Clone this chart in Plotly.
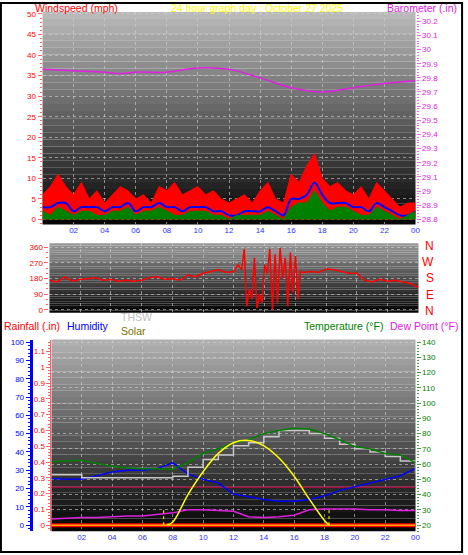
import plotly.graph_objects as go

W, H = 468, 555
hours = list(range(25))
half = [i * 0.5 for i in range(49)]
xtick_vals = list(range(2, 25, 2))
xtick_text = ["02", "04", "06", "08", "10", "12", "14", "16", "18", "20", "22", "00"]

wind_gust = [6,8,11,8,6,9,5,7,4,6,8,7,5,6,4,8,7,9,6,7,8,6,7,5,4,5,6,4,7,9,5,4,11,9,13,16,10,8,9,7,6,8,5,9,7,5,3,4,4]
wind_avg = [3,3,4,4,2,3,3,3,2,3,3,4,2,3,3,4,3,3,2,3,3,3,2,2,1,1,2,2,2,3,2,1,5,5,6,9,6,4,4,4,3,3,2,4,3,2,1,1,2]
wind_low = [2,1,3,2,1,2,2,1,1,2,2,3,1,2,2,3,2,1,1,2,2,2,1,1,0,1,1,1,1,2,1,0,3,4,4,7,4,2,3,3,2,1,1,3,2,1,0,1,2]
baro_time = [0,2,4,5,6,8,10,12,14,16,18,20,22,24]
baro = [29.86,29.85,29.84,29.83,29.84,29.84,29.87,29.86,29.80,29.73,29.70,29.73,29.76,29.78]

dir_time = [i*0.5 for i in range(25)] + [12.25,12.5,12.67,12.83,13.0,13.17,13.33,13.5,13.67,13.83,14.0,14.17,14.33,14.5,14.67,14.83,15.0,15.17,15.33,15.5,15.67,15.83,16.0,16.17,16.33] + [16.5,17,17.5,18,18.5,19,19.5,20,20.5,21,21.5,22,22.5,23,23.5,24]
dir_vals = [170,160,190,165,175,180,185,170,175,165,170,165,170,185,190,175,180,170,200,190,210,220,230,215,220] + [260,230,350,20,120,60,300,10,90,40,260,210,350,0,320,40,355,180,300,20,330,100,310,60,220] + [215,220,215,235,230,220,210,210,170,160,175,165,170,160,150,130]

temp = [61.5,62,62.5,60.5,58.5,57.5,57,57,56.5,61,67,70,74,76,80,82,83.5,83,80,76,71.5,70,67,66,61]
thsw = [53,53,51,51,51,51,51,51,52,58,63,66,72,74,78,82,82,80,77,73,70,68,65,62,54]
humidity = [25.5,25,25,27,29,30,30,31,34,28,25,23,17,15.5,14,13,13,14,16,19,21,23,25,27,31]
dewpoint = [24,24.5,25,25,25.5,26,26,27,28,30,30,29.5,29,25.5,25,25.5,26.5,30,30.5,30.5,30.5,30,30,29.5,29.5]
solar_time = [7.6,8,9,10,11,12,13,14,15,16,17,18,18.3]
solar = [0,20,200,350,470,540,555,520,440,320,170,30,0]
rain = [0]*25
rain_line = [0.24]*25
sun_events = [7.4, 18.3]

def py(p):
    return 1 - p / H

def px(p):
    return p / W

fig = go.Figure()
F = "Liberation Sans"

def gradient(x0, x1, y0, y1, top, n=30):
    shapes = []
    for i in range(n):
        f = i / n
        g = int(top * (1 - f))
        shapes.append(dict(type="rect", xref="paper", yref="paper", layer="below",
                           x0=px(x0), x1=px(x1), y0=py(y0 + (y1 - y0) * f),
                           y1=py(y0 + (y1 - y0) * (f + 1 / n)), line_width=0,
                           fillcolor=f"rgb({g},{g},{g})"))
    return shapes

shapes = []
shapes += gradient(43, 420, 10, 224, 185)
shapes += gradient(50, 423, 243, 313, 150)
shapes += gradient(52, 420, 340, 533, 175)
shapes.append(dict(type="rect", xref="paper", yref="paper", x0=0.002, x1=0.998, y0=0.002, y1=0.998,
                   line=dict(color="black", width=2)))
for t in sun_events:
    shapes.append(dict(type="line", xref="x3", yref="y4", x0=t, x1=t, y0=0, y1=0.105,
                       line=dict(color="yellow", width=1, dash="dot")))

fig.add_trace(go.Scatter(x=half, y=wind_gust, mode="lines", line=dict(color="red", width=1),
                         fill="tozeroy", fillcolor="red", xaxis="x", yaxis="y"))
fig.add_trace(go.Scatter(x=half, y=wind_avg, mode="lines", line=dict(color="blue", width=2, shape="spline"),
                         xaxis="x", yaxis="y"))
fig.add_trace(go.Scatter(x=half, y=wind_low, mode="lines", line=dict(color="green", width=1),
                         fill="tozeroy", fillcolor="green", xaxis="x", yaxis="y"))
fig.add_trace(go.Scatter(x=baro_time, y=baro, mode="lines", line=dict(color="#e020e0", width=1.5, shape="spline"),
                         xaxis="x", yaxis="y2"))
fig.add_trace(go.Scatter(x=dir_time, y=dir_vals, mode="lines", line=dict(color="red", width=1.5),
                         xaxis="x2", yaxis="y3"))
fig.add_trace(go.Scatter(x=hours, y=rain_line, mode="lines", line=dict(color="#a01040", width=1.5), xaxis="x3", yaxis="y4"))
fig.add_trace(go.Scatter(x=hours, y=rain, mode="lines", line=dict(color="red", width=4), xaxis="x3", yaxis="y4"))
fig.add_trace(go.Scatter(x=hours, y=rain, mode="lines", line=dict(color="orange", width=1.5), xaxis="x3", yaxis="y4"))
fig.add_trace(go.Scatter(x=hours, y=humidity, mode="lines", line=dict(color="blue", width=1.5), xaxis="x3", yaxis="y5"))
fig.add_trace(go.Scatter(x=hours, y=thsw, mode="lines", line=dict(color="#c8c8c8", width=1.5, shape="hv"), xaxis="x3", yaxis="y6"))
fig.add_trace(go.Scatter(x=hours, y=temp, mode="lines", line=dict(color="green", width=1.5), xaxis="x3", yaxis="y6"))
fig.add_trace(go.Scatter(x=hours, y=dewpoint, mode="lines", line=dict(color="#e020e0", width=1.5), xaxis="x3", yaxis="y6"))
fig.add_trace(go.Scatter(x=solar_time, y=solar, mode="lines", line=dict(color="yellow", width=1.5, shape="spline"), xaxis="x3", yaxis="y7"))

TS = 8
grid = dict(showgrid=True, gridcolor="rgba(210,210,210,0.6)", griddash="dot", gridwidth=1)
xcommon = dict(range=[0, 24], tickvals=xtick_vals, ticktext=xtick_text, tickfont=dict(family=F, size=TS, color="#3030ff"),
               ticks="", zeroline=False, showline=False, **grid)

def yt(color, tc, dt):
    return dict(ticks="outside", ticklen=4, tickcolor=tc, tickfont=dict(family=F, size=TS, color=color), zeroline=False,
                minor=dict(dtick=dt, ticks="outside", ticklen=2, tickcolor=tc))

fig.update_layout(
    width=W, height=H, margin=dict(l=0, r=0, t=0, b=0), paper_bgcolor="white", plot_bgcolor="rgba(0,0,0,0)",
    showlegend=False, shapes=shapes,
    xaxis=dict(domain=[px(43), px(420)], anchor="y", **xcommon),
    yaxis=dict(anchor="x", domain=[py(224), py(10)], range=[-1.2, 50.5], dtick=5, **yt("red", "#ff6060", 1), **grid),
    yaxis2=dict(anchor="x", overlaying="y", side="right", range=[28.764, 30.266], dtick=0.1, showgrid=False, **yt("#e020e0", "#ff60ff", 0.02)),
    xaxis2=dict(domain=[px(50), px(423)], anchor="y3", range=[0, 24], tickvals=xtick_vals, showticklabels=False, ticks="",
                zeroline=False, **grid),
    yaxis3=dict(anchor="x2", domain=[py(313), py(243)], range=[-17, 383], tickvals=[0, 90, 180, 270, 360], **yt("red", "#ff6060", 30), **grid),
    xaxis3=dict(domain=[px(52), px(420)], anchor="y4", **xcommon),
    yaxis4=dict(anchor="x3", domain=[py(533), py(340)], range=[-0.038, 1.176], tickvals=[i/10 for i in range(12)],
                ticktext=["0","0.1","0.2","0.3","0.4","0.5","0.6","0.7","0.8","0.9","1","1.1"], showgrid=False,
                showline=True, linecolor="#ff6060", linewidth=1, **yt("red", "#ff6060", 0.02)),
    yaxis5=dict(overlaying="y4", anchor="free", position=px(31), side="left", range=[-3.3, 101.4],
                tickvals=list(range(0, 101, 10)), showline=True, linecolor="blue", linewidth=3, showgrid=False,
                **yt("blue", "blue", 2)),
    yaxis6=dict(anchor="x3", overlaying="y4", side="right", range=[16, 141.7], dtick=10, **yt("green", "#40a040", 2), **grid),
    yaxis7=dict(anchor="x3", overlaying="y4", range=[-40, 1217], visible=False),
)

ann = [
    ("Windspeed (mph)", 33, 6, "red", "left"),
    ("24 hour graph day : October 27 2025", 260, 6, "yellow", "center"),
    ("Barometer (.in)", 464, 6, "#e020e0", "right"),
    ("Rainfall (.in)", 2, 326, "red", "left"),
    ("Humidity", 66, 326, "blue", "left"),
    ("THSW", 120, 317, "#c0c0c0", "left"),
    ("Solar", 120, 331, "#807000", "left"),
    ("Temperature (°F)", 389, 326, "green", "right"),
    ("Dew Point (°F)", 465, 326, "#e020e0", "right"),
]
annotations = [dict(text=t, x=px(x), y=py(y), xref="paper", yref="paper", xanchor=a, yanchor="middle", showarrow=False,
                    font=dict(family=F, size=10.5, color=c)) for t, x, y, c, a in ann]
for lab, yy in zip(["N", "W", "S", "E", "N"], [246, 262, 278, 295, 311]):
    annotations.append(dict(text=lab, x=px(441), y=py(yy), xref="paper", yref="paper", showarrow=False,
                            font=dict(family=F, size=12, color="red")))
fig.update_layout(annotations=annotations)
fig.write_html("out.html", config={"displayModeBar": False},
               post_script="document.body.style.margin='0';document.body.style.overflow='hidden';")
